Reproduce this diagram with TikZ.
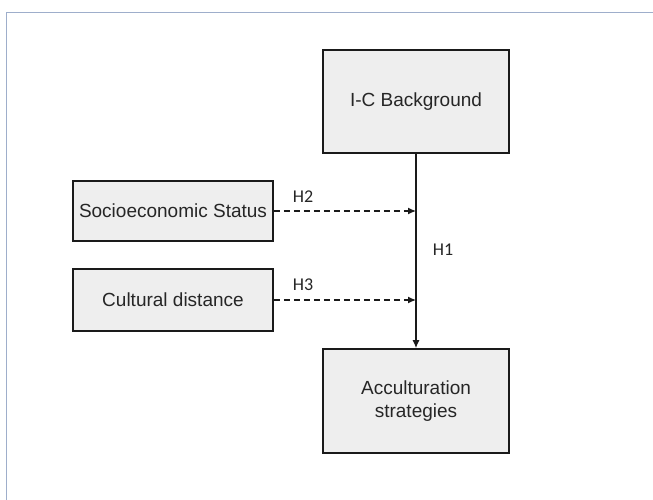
\documentclass[tikz,border=0pt]{standalone}
\usepackage{fontspec}
\setmainfont{Liberation Sans}
\newfontfamily\labelfont{Carlito}
\usetikzlibrary{arrows.meta}
\definecolor{boxfill}{HTML}{EEEEEE}
\definecolor{framecol}{HTML}{9EAECB}
\definecolor{linecol}{HTML}{1A1A1A}
\tikzset{
  box/.style={draw=linecol, line width=1.6pt, fill=boxfill, align=center,
    font=\fontsize{19}{23}\selectfont, inner sep=0pt, text=black!85},
  hlabel/.style={font=\labelfont\fontsize{18}{21}\selectfont, text=black!85, inner sep=0pt},
  solidarrow/.style={draw=linecol, line width=1.3pt, -{Latex[length=8pt,width=7pt]}},
  dasharrow/.style={draw=linecol, line width=1.3pt, dash pattern=on 6pt off 4pt, -{Latex[length=8pt,width=7pt]}},
}
\begin{document}
\begin{tikzpicture}[x=1pt,y=-1pt]
\useasboundingbox (0,0) rectangle (653,500);
\fill[white] (0,0) rectangle (653,500);
% frame
\draw[framecol, line width=1.8pt] (6.5,500) -- (6.5,12.5) -- (653,12.5);
% boxes
\node[box, minimum width=186pt, minimum height=103pt] (ic) at (416,101.5) {I-C Background};
\node[box, minimum width=186pt, minimum height=104pt] (acc) at (416,401) {Acculturation\\strategies};
\node[box, minimum width=200pt, minimum height=60pt] (soc) at (173,211) {Socioeconomic Status};
\node[box, minimum width=200pt, minimum height=62pt] (cul) at (173,300) {Cultural distance};
% connectors
\draw[solidarrow] (ic) -- (acc);
\draw[dasharrow] (soc.east) -- (soc.east -| ic.south);
\draw[dasharrow] (cul.east) -- (cul.east -| ic.south);
% labels
\node[hlabel] (h2) at (303,197) {H2};
\node[hlabel] (h3) at (303,285) {H3};
\node[hlabel] (h1) at (443,250) {H1};
\end{tikzpicture}
\end{document}
